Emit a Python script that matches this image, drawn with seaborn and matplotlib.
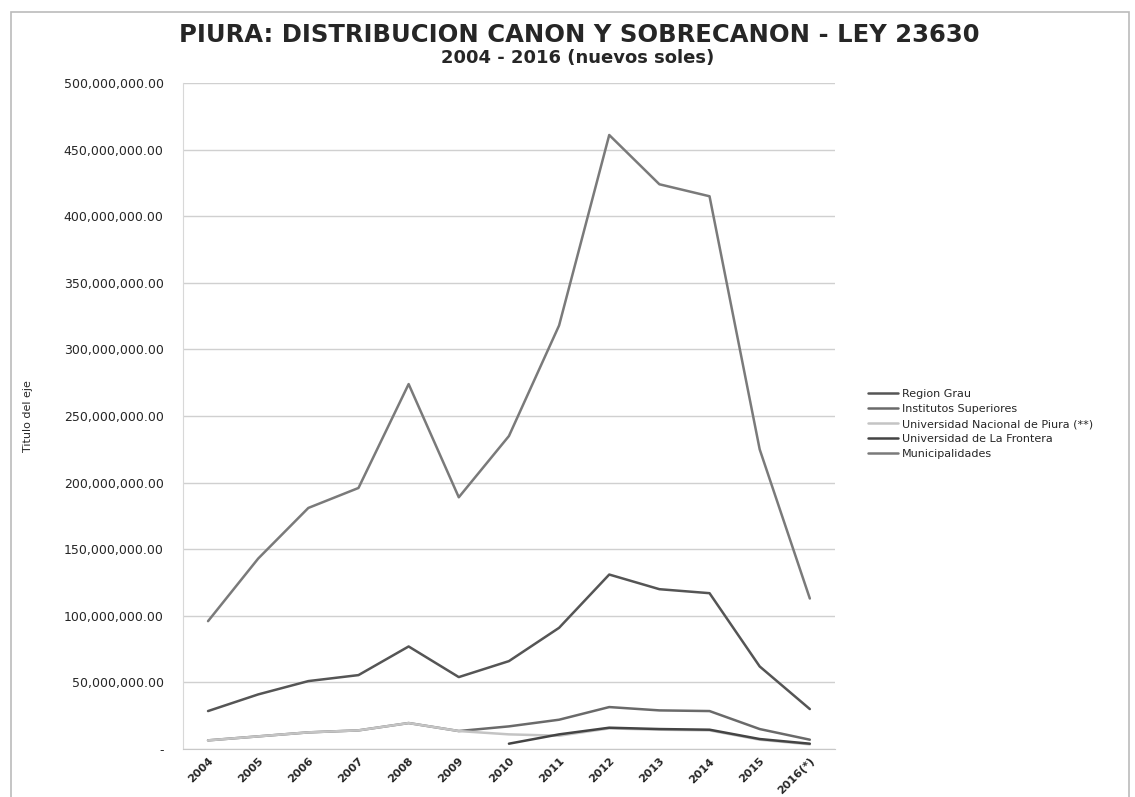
import matplotlib
matplotlib.use('Agg')
import matplotlib.pyplot as plt
import numpy as np
import pandas as pd
import seaborn as sns
from matplotlib.patches import Rectangle
from matplotlib.ticker import FuncFormatter

# categories and values (nuevos soles, millions)
years = ['2004', '2005', '2006', '2007', '2008', '2009', '2010', '2011', '2012', '2013', '2014', '2015', '2016(*)']
region_grau = [28.5, 41, 51, 55.5, 77, 54, 66, 91, 131, 120, 117, 62, 30]
institutos = [6.5, 9.5, 12.5, 14, 19.5, 13.5, 17, 22, 31.5, 29, 28.5, 15, 7]
unp = [6.5, 9.5, 12.5, 14, 19.5, 13.5, 11, 10, 15.5, 14.5, 14, 7, 3.5]
frontera = [np.nan, np.nan, np.nan, np.nan, np.nan, np.nan, 4, 11, 16, 15, 14.5, 7.5, 4]
municipalidades = [96, 143, 181, 196, 274, 189, 235, 318, 461, 424, 415, 225, 113]

series_names = ['Region Grau', 'Institutos Superiores', 'Universidad Nacional de Piura (**)',
                'Universidad de La Frontera', 'Municipalidades']
series_values = [region_grau, institutos, unp, frontera, municipalidades]
series_colors = ['#555555', '#6a6a6a', '#c4c4c4', '#444444', '#7a7a7a']

rows = []
for name, values in zip(series_names, series_values):
    for year, value in zip(years, values):
        rows.append({'anio': year, 'monto': value * 1e6, 'serie': name})
data = pd.DataFrame(rows)

sns.set_style('white')
plt.rcParams['font.family'] = ['DejaVu Sans']

fig = plt.figure(figsize=(11.35, 7.97), dpi=100)
ax = fig.add_axes([0.1612, 0.0602, 0.5744, 0.8356])

sns.lineplot(data=data, x='anio', y='monto', hue='serie', hue_order=series_names,
             palette=dict(zip(series_names, series_colors)), linewidth=1.8, ax=ax,
             sort=False, estimator=None)

ax.set_xlim(-0.5, len(years) - 0.5)
ax.set_ylim(0, 500e6)
ax.set_yticks(np.arange(0, 500e6 + 1, 50e6))
ax.yaxis.set_major_formatter(FuncFormatter(lambda v, p: '-' if v == 0 else '{:,.2f}'.format(v)))
ax.grid(axis='y', color='#d0d0d0', linewidth=1)
for side in ['top', 'right']:
    ax.spines[side].set_visible(False)
ax.spines['left'].set_color('#d8d8d8')
ax.spines['bottom'].set_color('#c8c8c8')
ax.tick_params(axis='y', labelsize=9, pad=14, length=0)
ax.tick_params(axis='x', labelsize=8, length=0, pad=5)
for label in ax.get_xticklabels():
    label.set_rotation(45)
    label.set_ha('right')
    label.set_rotation_mode('anchor')
    label.set_fontweight('bold')
ax.set_xlabel('')
ax.set_ylabel('Titulo del eje', fontsize=8, labelpad=22)

ax.legend(loc='center left', bbox_to_anchor=(1.035, 0.488), frameon=False, fontsize=8,
          handlelength=2.7, labelspacing=0.45, handletextpad=0.4)

fig.text(0.510, 0.956, 'PIURA: DISTRIBUCION CANON Y SOBRECANON - LEY 23630',
         ha='center', va='center', fontsize=17.5, fontweight='bold')
fig.text(0.509, 0.927, '2004 - 2016 (nuevos soles)', ha='center', va='center',
         fontsize=13, fontweight='bold')

fig.patches.append(Rectangle((0.01, -0.01), 0.985, 0.995, transform=fig.transFigure,
                             fill=False, edgecolor='#bbbbbb', linewidth=1.2))

fig.savefig('out.png', dpi=100)
